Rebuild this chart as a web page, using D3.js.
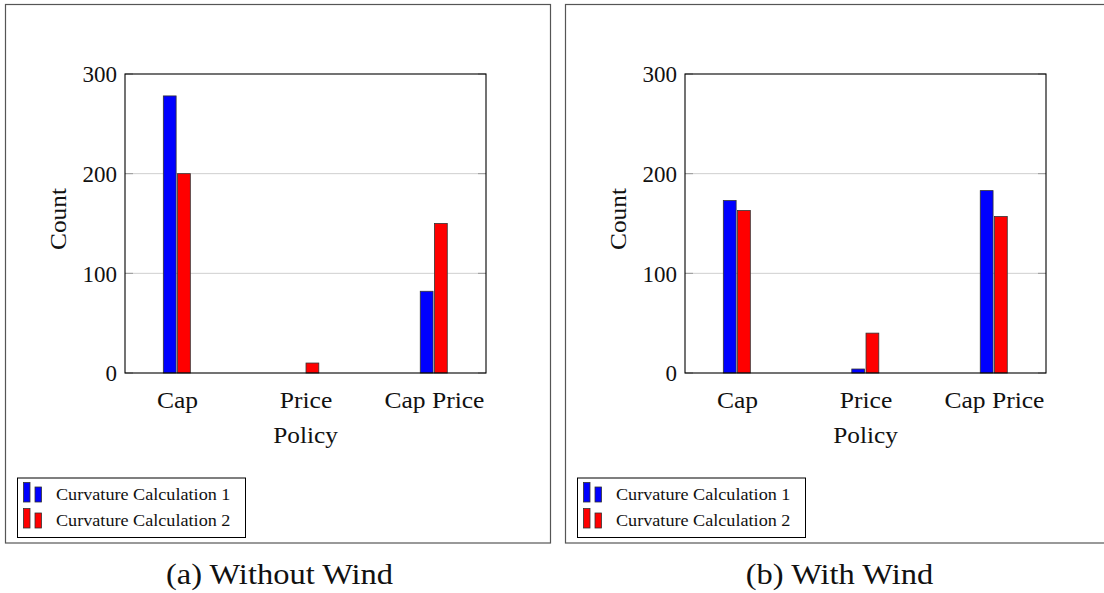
<!DOCTYPE html>
<html>
<head>
<meta charset="utf-8">
<script src="https://cdn.jsdelivr.net/npm/d3@7"></script>
<style>
  html, body { margin: 0; padding: 0; background: #fff; }
  svg { display: block; }
  svg text { font-family: "Liberation Serif", "Times New Roman", serif; fill: #111; }
</style>
</head>
<body>
<svg id="chart" width="1104" height="593"></svg>
<script>
// Policy categories on the x axis
const categories = ["Cap", "Price", "Cap Price"];
// Series names (legend entries)
const seriesNames = ["Curvature Calculation 1", "Curvature Calculation 2"];
const seriesColors = ["#0000ff", "#ff0000"];

// Counts without wind
const noWindCalc1 = [278, 0, 82];
const noWindCalc2 = [200, 10, 150];
// Counts with wind
const windCalc1 = [173, 4, 183];
const windCalc2 = [163, 40, 157];

const yTicks = [0, 100, 200, 300];
const gridTicks = [100, 200];
const captions = ["(a) Without Wind", "(b) With Wind"];
const xAxisTitle = "Policy";
const yAxisTitle = "Count";

const panels = [
  { caption: captions[0], series: [noWindCalc1, noWindCalc2], offset: 0 },
  { caption: captions[1], series: [windCalc1, windCalc2], offset: 560 }
];

// stretch text horizontally a little, giving the wide book-face look
function widen(sel, factor) {
  sel.each(function () {
    const w = this.getComputedTextLength();
    d3.select(this).attr("textLength", w * factor).attr("lengthAdjust", "spacingAndGlyphs");
  });
}

const svg = d3.select("#chart");

panels.forEach(p => {
  const g = svg.append("g").attr("transform", `translate(${p.offset},0)`);

  // outer frame of the subfigure
  g.append("rect")
    .attr("x", 5.5).attr("y", 4.5)
    .attr("width", 545).attr("height", 538.5)
    .attr("fill", "none").attr("stroke", "#555").attr("stroke-width", 1.2);

  const x = d3.scalePoint().domain(categories).range([125, 486]).padding(0.405);
  const y = d3.scaleLinear().domain([0, 300]).range([373, 74]);
  const sub = d3.scaleBand().domain(d3.range(seriesNames.length))
    .range([-13.7, 13.3]).paddingInner(0.1);

  // horizontal grid lines
  g.selectAll(".grid").data(gridTicks).join("line")
    .attr("x1", 125).attr("x2", 486)
    .attr("y1", d => y(d)).attr("y2", d => y(d))
    .attr("stroke", "#cfcfcf").attr("stroke-width", 1);

  // inward tick marks on both sides
  g.selectAll(".tl").data(yTicks).join("line")
    .attr("x1", 125).attr("x2", 133)
    .attr("y1", d => y(d)).attr("y2", d => y(d))
    .attr("stroke", "#999").attr("stroke-width", 1);
  g.selectAll(".tr").data(yTicks).join("line")
    .attr("x1", 478).attr("x2", 486)
    .attr("y1", d => y(d)).attr("y2", d => y(d))
    .attr("stroke", "#999").attr("stroke-width", 1);

  // bars
  p.series.forEach((vals, si) => {
    g.selectAll(".bar" + si).data(vals.map((v, i) => ({ v, c: categories[i] })))
      .join("rect")
      .filter(d => d.v > 0)
      .attr("x", d => x(d.c) + sub(si))
      .attr("y", d => y(d.v))
      .attr("width", sub.bandwidth())
      .attr("height", d => y(0) - y(d.v))
      .attr("fill", seriesColors[si])
      .attr("stroke", "#333").attr("stroke-width", 0.8);
  });

  // plot frame
  g.append("rect")
    .attr("x", 125).attr("y", 74)
    .attr("width", 361).attr("height", 299)
    .attr("fill", "none").attr("stroke", "#000").attr("stroke-width", 1.1);

  // y tick labels
  const yAxis = d3.axisLeft(y).tickValues(yTicks).tickSize(0).tickPadding(8);
  const ya = g.append("g").attr("transform", "translate(125,0)").call(yAxis);
  ya.attr("font-family", null).attr("font-size", null);
  ya.select(".domain").remove();
  ya.selectAll("text").attr("font-size", 23).attr("fill", "#111").attr("dy", "0.34em");

  // x tick labels
  const xAxis = d3.axisBottom(x).tickSize(0).tickPadding(0);
  const xa = g.append("g").attr("transform", "translate(0,373)").call(xAxis);
  xa.attr("font-family", null).attr("font-size", null);
  xa.select(".domain").remove();
  xa.selectAll("text").attr("font-size", 23).attr("fill", "#111").attr("y", 35).attr("dy", null);
  widen(xa.selectAll("text"), 1.11);

  // axis titles
  const xt = g.append("text").attr("x", 305.5).attr("y", 443)
    .attr("text-anchor", "middle").attr("font-size", 23).text(xAxisTitle);
  const yt = g.append("text")
    .attr("transform", "translate(66,219) rotate(-90)")
    .attr("text-anchor", "middle").attr("font-size", 23).text(yAxisTitle);
  widen(xt, 1.1);
  widen(yt, 1.1);

  // legend
  const lg = g.append("g");
  lg.append("rect").attr("x", 17.5).attr("y", 478).attr("width", 228).attr("height", 59.5)
    .attr("fill", "#fff").attr("stroke", "#000").attr("stroke-width", 1);
  seriesNames.forEach((name, i) => {
    const by = 502 + i * 26;
    lg.append("rect").attr("x", 23.5).attr("y", by - 19.5).attr("width", 6.5).attr("height", 19.5)
      .attr("fill", seriesColors[i]).attr("stroke", "#333").attr("stroke-width", 0.8);
    lg.append("rect").attr("x", 35).attr("y", by - 15).attr("width", 6.5).attr("height", 15)
      .attr("fill", seriesColors[i]).attr("stroke", "#333").attr("stroke-width", 0.8);
    const t = lg.append("text").attr("x", 56).attr("y", by - 2)
      .attr("font-size", 16.5).text(name);
    widen(t, 1.1);
  });

  // subfigure caption
  const cap = g.append("text").attr("x", 279.5).attr("y", 584)
    .attr("text-anchor", "middle").attr("font-size", 29).text(p.caption);
  widen(cap, 1.12);
});
</script>
</body>
</html>
